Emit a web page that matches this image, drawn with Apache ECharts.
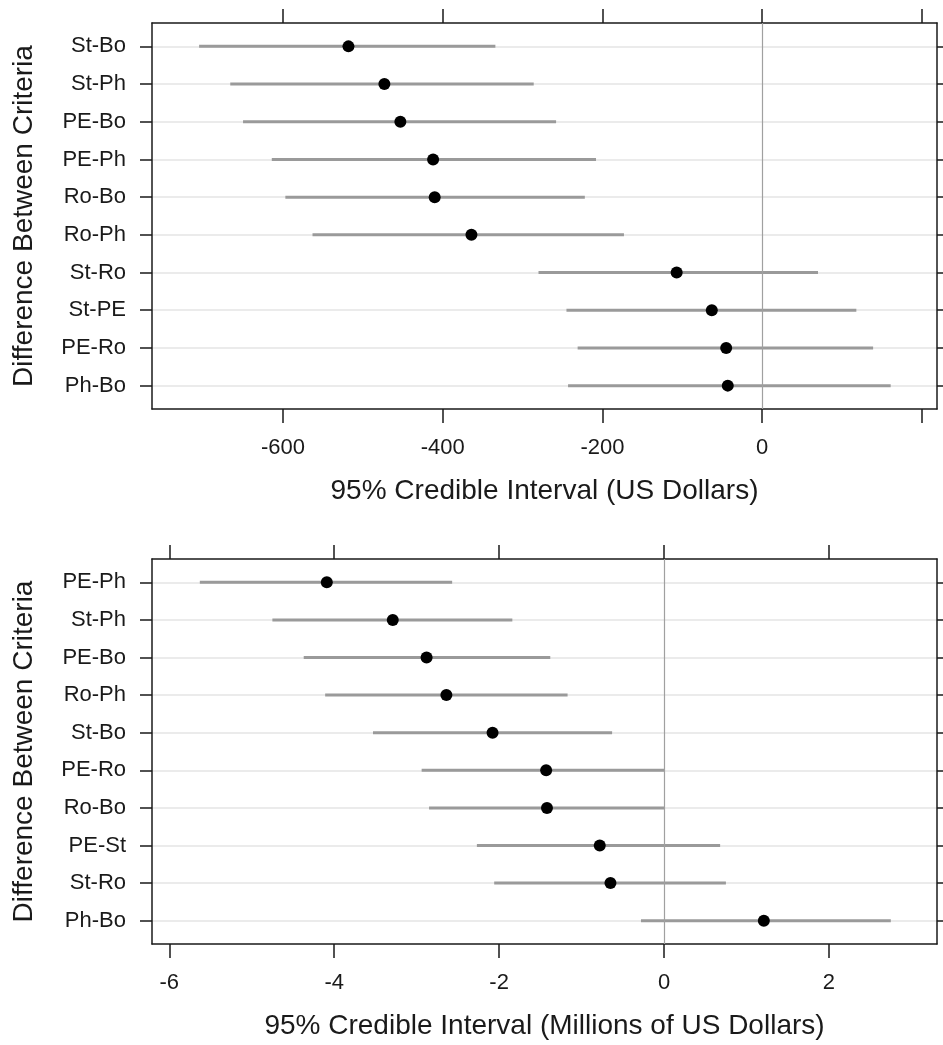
<!DOCTYPE html>
<html>
<head>
<meta charset="utf-8">
<script src="https://cdn.jsdelivr.net/npm/echarts@6/dist/echarts.min.js"></script>
<style>
  html, body { margin: 0; padding: 0; background: #fff; }
  #chart { width: 943px; height: 1045px; }
</style>
</head>
<body>
<div id="chart"></div>
<script>
// top panel: US dollars
var usdPairs = ['St-Bo', 'St-Ph', 'PE-Bo', 'PE-Ph', 'Ro-Bo', 'Ro-Ph', 'St-Ro', 'St-PE', 'PE-Ro', 'Ph-Bo'];
var usdLow = [-705, -666, -650, -614, -597, -563, -280, -245, -231, -243];
var usdMean = [-518, -473, -453, -412, -410, -364, -107, -63, -45, -43];
var usdHigh = [-334, -286, -258, -208, -222, -173, 70, 118, 139, 161];
var usdTicks = [-600, -400, -200, 0, 200];
var usdLabels = [-600, -400, -200, 0];

// bottom panel: millions of US dollars
var millPairs = ['PE-Ph', 'St-Ph', 'PE-Bo', 'Ro-Ph', 'St-Bo', 'PE-Ro', 'Ro-Bo', 'PE-St', 'St-Ro', 'Ph-Bo'];
var millLow = [-5.63, -4.75, -4.37, -4.11, -3.53, -2.94, -2.85, -2.27, -2.06, -0.28];
var millMean = [-4.09, -3.29, -2.88, -2.64, -2.08, -1.43, -1.42, -0.78, -0.65, 1.21];
var millHigh = [-2.57, -1.84, -1.38, -1.17, -0.63, 0.0, 0.0, 0.68, 0.75, 2.75];
var millTicks = [-6, -4, -2, 0, 2];
var millLabels = [-6, -4, -2, 0, 2];

var font = '"Liberation Sans", Arial, sans-serif';
var ink = '#1a1a1a';
var rowIdx = [0, 1, 2, 3, 4, 5, 6, 7, 8, 9];

var myChart = echarts.init(document.getElementById('chart'));

var option = {
    animation: false,
    backgroundColor: '#fff',
    textStyle: { fontFamily: font },
    grid: [
        { left: 152, right: 6, top: 23, height: 386 },
        { left: 152, right: 6, top: 559, height: 385 }
    ],
    xAxis: [],
    yAxis: [],
    series: []
};

function addPanel(g, pairs, low, mean, high, ticks, labels, xMin, xMax, title) {
    var line = { show: true, onZero: false, lineStyle: { color: ink, width: 1.5 } };
    // bottom x axis with labels
    option.xAxis.push({
        type: 'value', gridIndex: g, min: xMin, max: xMax, position: 'bottom',
        name: title, nameLocation: 'middle', nameGap: 68,
        nameTextStyle: { fontSize: 28, color: ink, fontFamily: font },
        axisLine: line,
        axisTick: { show: true, length: 14, customValues: ticks, lineStyle: { color: ink, width: 1.5 } },
        axisLabel: { fontSize: 22, color: ink, margin: 28, customValues: labels, fontFamily: font },
        splitLine: { show: false }
    });
    // top x axis, ticks only
    option.xAxis.push({
        type: 'value', gridIndex: g, min: xMin, max: xMax, position: 'top',
        axisLine: line,
        axisTick: { show: true, length: 14, customValues: ticks, lineStyle: { color: ink, width: 1.5 } },
        axisLabel: { show: false },
        splitLine: { show: false }
    });
    // left y axis with row labels
    option.yAxis.push({
        type: 'value', gridIndex: g, min: -0.62, max: 9.62, inverse: true, position: 'left',
        name: 'Difference Between Criteria', nameLocation: 'middle', nameGap: 114,
        nameTextStyle: { fontSize: 28, color: ink, fontFamily: font },
        axisLine: line,
        axisTick: { show: true, length: 12, customValues: rowIdx, lineStyle: { color: ink, width: 1.5 } },
        axisLabel: {
            fontSize: 22, color: ink, margin: 26, customValues: rowIdx, fontFamily: font,
            formatter: function (v) { return pairs[Math.round(v)]; }
        },
        splitLine: { show: true, lineStyle: { color: '#e4e4e4', width: 1.5 } }
    });
    // right y axis, ticks only
    option.yAxis.push({
        type: 'value', gridIndex: g, min: -0.62, max: 9.62, inverse: true, position: 'right',
        axisLine: line,
        axisTick: { show: true, length: 12, customValues: rowIdx, lineStyle: { color: ink, width: 1.5 } },
        axisLabel: { show: false },
        splitLine: { show: false }
    });

    var ax = g * 2;
    var bars = [], pts = [];
    for (var i = 0; i < pairs.length; i++) {
        bars.push([low[i], high[i], i]);
        pts.push([mean[i], i]);
    }
    // credible intervals
    option.series.push({
        type: 'custom', xAxisIndex: ax, yAxisIndex: ax,
        data: bars,
        encode: { x: [0, 1], y: 2 },
        renderItem: function (params, api) {
            var a = api.coord([api.value(0), api.value(2)]);
            var b = api.coord([api.value(1), api.value(2)]);
            return {
                type: 'line',
                shape: { x1: a[0], y1: a[1], x2: b[0], y2: b[1] },
                style: { stroke: '#9a9a9a', lineWidth: 3 }
            };
        },
        markLine: {
            silent: true, symbol: 'none', label: { show: false },
            lineStyle: { color: '#a0a0a0', width: 1.2, type: 'solid' },
            data: [{ xAxis: 0 }]
        },
        z: 2
    });
    // posterior means
    option.series.push({
        type: 'scatter', xAxisIndex: ax, yAxisIndex: ax,
        data: pts, symbolSize: 12,
        itemStyle: { color: '#000', opacity: 1 },
        z: 3
    });
}

addPanel(0, usdPairs, usdLow, usdMean, usdHigh, usdTicks, usdLabels, -764, 219, '95% Credible Interval (US Dollars)');
addPanel(1, millPairs, millLow, millMean, millHigh, millTicks, millLabels, -6.21, 3.31, '95% Credible Interval (Millions of US Dollars)');

myChart.setOption(option);
</script>
</body>
</html>
